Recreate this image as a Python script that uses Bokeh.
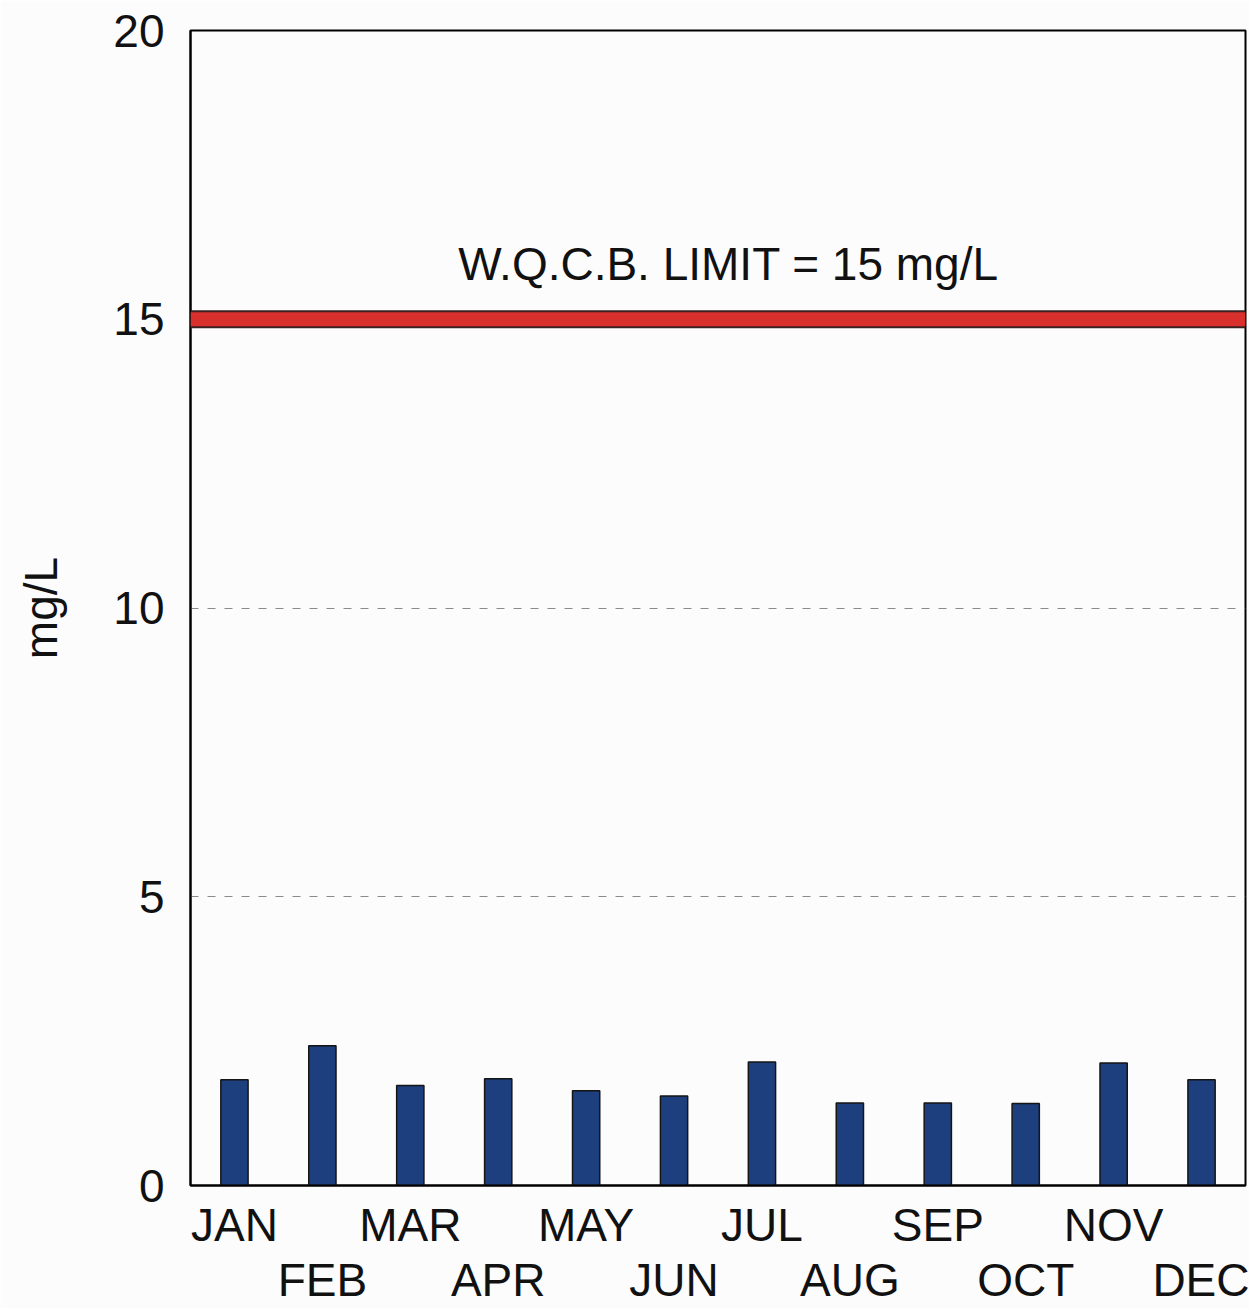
from bokeh.plotting import figure
from bokeh.models import FixedTicker, LinearAxis, Span, Label
from bokeh.embed import file_html
from bokeh.resources import INLINE

months = ["JAN", "FEB", "MAR", "APR", "MAY", "JUN", "JUL", "AUG", "SEP", "OCT", "NOV", "DEC"]
values = [1.83, 2.42, 1.73, 1.85, 1.64, 1.55, 2.14, 1.43, 1.43, 1.42, 2.12, 1.83]
limit = 15
limit_text = "W.Q.C.B. LIMIT = 15 mg/L"
y_ticks = [0, 5, 10, 15, 20]
grid_ticks = [5, 10]
y_label = "mg/L"

FONT = "Liberation Sans"
FS = "46px"

p = figure(width=1249, height=1308, x_range=(0, 12), y_range=(0, 20),
           output_backend="svg", toolbar_location=None,
           min_border_left=190, min_border_top=30, min_border_right=4,
           min_border_bottom=118, x_axis_location=None,
           background_fill_color="#fcfcfc", border_fill_color="#fcfcfc")

p.outline_line_color = "black"
p.outline_line_width = 2

xs = [i + 0.5 for i in range(len(months))]
p.vbar(x=xs, top=values, width=0.31, bottom=0,
       fill_color="#1d3f7d", line_color="#151515", line_width=1.5)

# grid
p.xgrid.visible = False
p.ygrid.ticker = FixedTicker(ticks=grid_ticks)
p.ygrid.grid_line_color = "#8a8a8a"
p.ygrid.grid_line_dash = "8 9"
p.ygrid.grid_line_width = 1

# y axis
ya = p.yaxis[0]
ya.ticker = FixedTicker(ticks=y_ticks)
ya.major_tick_out = 0
ya.major_tick_in = 0
ya.minor_tick_out = 0
ya.minor_tick_in = 0
ya.axis_line_color = "black"
ya.axis_line_width = 2
ya.major_label_text_font = FONT
ya.major_label_text_font_size = FS
ya.major_label_text_color = "#111111"
ya.major_label_standoff = 26
ya.axis_label = y_label
ya.axis_label_text_font = FONT
ya.axis_label_text_font_size = FS
ya.axis_label_text_font_style = "normal"
ya.axis_label_text_color = "#111111"
ya.axis_label_standoff = 43

# two staggered x axes
odd_ticks = xs[0::2]
even_ticks = xs[1::2]
ax1 = LinearAxis(ticker=FixedTicker(ticks=odd_ticks),
                 major_label_overrides={t: m for t, m in zip(odd_ticks, months[0::2])})
ax2 = LinearAxis(ticker=FixedTicker(ticks=even_ticks),
                 major_label_overrides={t: m for t, m in zip(even_ticks, months[1::2])})
for i, ax in enumerate((ax1, ax2)):
    ax.major_tick_out = 0
    ax.major_tick_in = 0
    ax.minor_tick_out = 0
    ax.minor_tick_in = 0
    ax.major_label_text_font = FONT
    ax.major_label_text_font_size = FS
    ax.major_label_text_color = "#111111"
    if i == 0:
        ax.axis_line_color = "black"
        ax.axis_line_width = 2
        ax.major_label_standoff = 13
    else:
        ax.axis_line_color = None
        ax.major_label_standoff = 0
    p.add_layout(ax, "below")

# limit band
p.add_layout(Span(location=limit, dimension="width", line_color="#3a2222", line_width=18))
p.add_layout(Span(location=limit, dimension="width", line_color="#d9302e", line_width=14))

p.add_layout(Label(x=6.12, y=limit + 0.95, text=limit_text, text_align="center",
                   text_baseline="alphabetic", text_font=FONT, text_font_size=FS,
                   text_color="#111111"))

open("out.html", "w").write(file_html(p, INLINE))
